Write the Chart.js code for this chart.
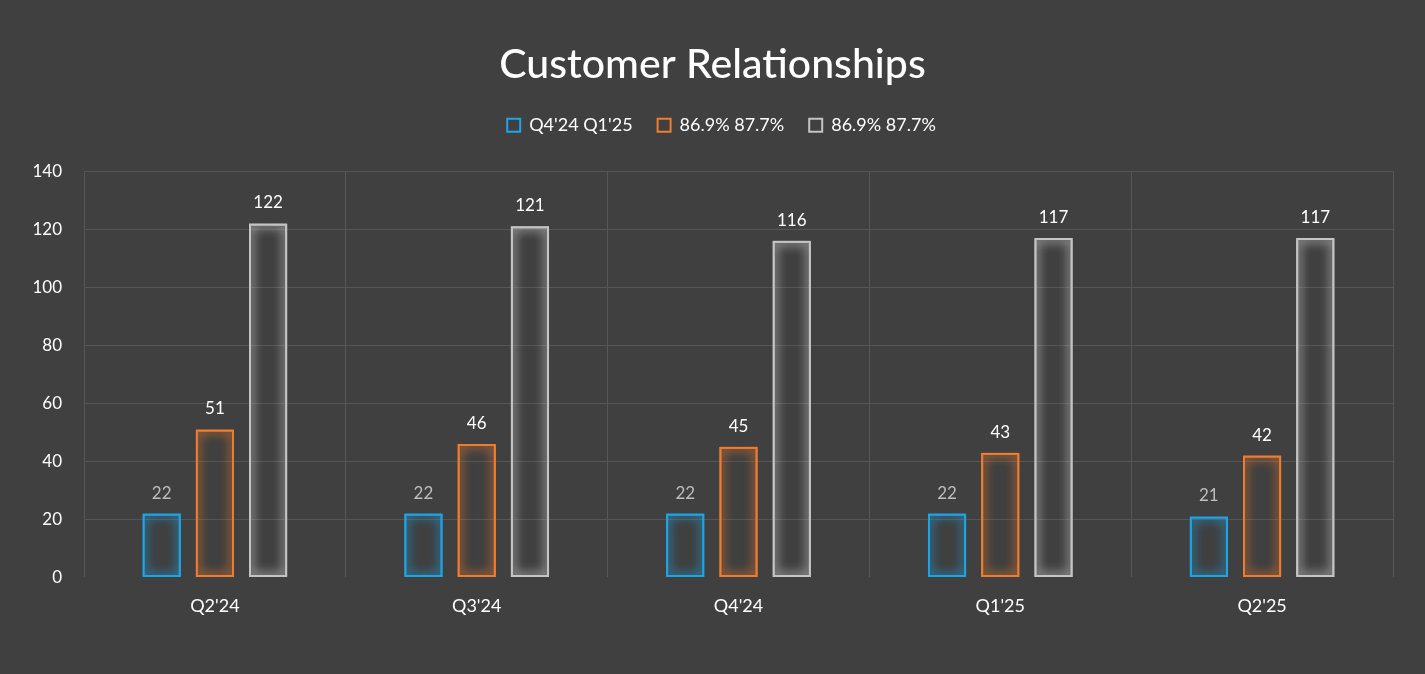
<!DOCTYPE html>
<html>
<head>
<meta charset="utf-8">
<script src="https://cdn.jsdelivr.net/npm/chart.js@4/dist/chart.umd.min.js"></script>
<style>
html,body{margin:0;padding:0;background:#404040;}
#wrap{width:1425px;height:674px;}
</style>
</head>
<body>
<div id="wrap"><canvas id="c" width="1425" height="674"></canvas></div>
<script>
const categories = ["Q2'24", "Q3'24", "Q4'24", "Q1'25", "Q2'25"];
const seriesNames = ["Q4'24 Q1'25", "86.9% 87.7%", "86.9% 87.7%"];
const seriesA = [22, 22, 22, 22, 21];
const seriesB = [51, 46, 45, 43, 42];
const seriesC = [122, 121, 116, 117, 117];
const yTicks = [0, 20, 40, 60, 80, 100, 120, 140];

const colors = ['#1ea5e6', '#ee7d31', '#c4c4c4'];
const glowColors = ['rgba(30,165,230,0.95)', 'rgba(238,125,49,0.95)', 'rgba(225,225,225,0.95)'];
const labelColors = ['#bdbdbd', '#ffffff', '#ffffff'];

const glowPlugin = {
  id: 'glow',
  beforeDatasetDraw(chart, args) {
    const ctx = chart.ctx;
    ctx.save();
    ctx.shadowColor = glowColors[args.index];
    ctx.shadowBlur = 11;
  },
  afterDatasetDraw(chart, args) {
    const ctx = chart.ctx;
    args.meta.data.forEach(b => b.draw(ctx));
    ctx.restore();
  }
};

const legendSpace = {
  id: 'legendSpace',
  beforeInit(chart) {
    const lg = chart.legend;
    const origFit = lg.fit;
    lg.fit = function () {
      origFit.call(this);
      this.height += 27;
    };
    const origDraw = lg.draw;
    lg.draw = function () {
      const ctx = this.ctx;
      ctx.save();
      ctx.translate(9, 0);
      origDraw.call(this);
      ctx.restore();
    };
  }
};

const labelPlugin = {
  id: 'vals',
  afterDatasetsDraw(chart) {
    const ctx = chart.ctx;
    ctx.save();
    ctx.font = '17px Lato';
    ctx.textAlign = 'center';
    ctx.textBaseline = 'bottom';
    chart.data.datasets.forEach((ds, i) => {
      const meta = chart.getDatasetMeta(i);
      meta.data.forEach((bar, j) => {
        ctx.fillStyle = labelColors[i];
        ctx.fillText(String(ds.data[j]), bar.x, bar.y - 12);
      });
    });
    ctx.restore();
  }
};

const datasets = [seriesA, seriesB, seriesC].map((d, i) => ({
  label: seriesNames[i],
  data: d,
  backgroundColor: 'rgba(0,0,0,0)',
  borderColor: colors[i],
  borderWidth: 2,
  borderSkipped: false,
  categoryPercentage: 0.61,
  barPercentage: 0.72
}));

new Chart(document.getElementById('c'), {
  type: 'bar',
  data: { labels: categories, datasets },
  plugins: [legendSpace, glowPlugin, labelPlugin],
  options: {
    responsive: false,
    animation: false,
    devicePixelRatio: 1,
    layout: { padding: { left: 32, right: 32, top: 40, bottom: 39 } },
    plugins: {
      title: {
        display: true,
        text: 'Customer Relationships',
        color: '#ffffff',
        font: { family: 'Lato', size: 41, weight: '500' },
        padding: { top: 0, bottom: 2 }
      },
      legend: {
        display: true,
        position: 'top',
        labels: {
          color: '#ffffff',
          font: { family: 'Lato', size: 18 },
          boxWidth: 13,
          boxHeight: 13,
          padding: 25,
          generateLabels(chart) {
            return chart.data.datasets.map((ds, i) => ({
              text: ds.label,
              fillStyle: 'rgba(0,0,0,0)',
              strokeStyle: colors[i],
              lineWidth: 2,
              fontColor: '#ffffff',
              datasetIndex: i,
              hidden: false
            }));
          }
        }
      },
      tooltip: { enabled: false }
    },
    scales: {
      x: {
        grid: { color: '#575757', lineWidth: 1, drawTicks: false },
        border: { display: false },
        ticks: { color: '#ffffff', font: { family: 'Lato', size: 18 }, padding: 18 }
      },
      y: {
        min: 0,
        max: 140,
        afterBuildTicks(axis) { axis.ticks = yTicks.map(v => ({ value: v })); },
        afterFit(axis) { axis.width = 52; },
        grid: {
          color: (c) => (c.tick && c.tick.value === 0) ? 'rgba(0,0,0,0)' : '#555555',
          lineWidth: 1,
          drawTicks: false
        },
        border: { display: false },
        ticks: { color: '#ffffff', font: { family: 'Lato', size: 17 }, padding: 22 }
      }
    }
  }
});
</script>
</body>
</html>
